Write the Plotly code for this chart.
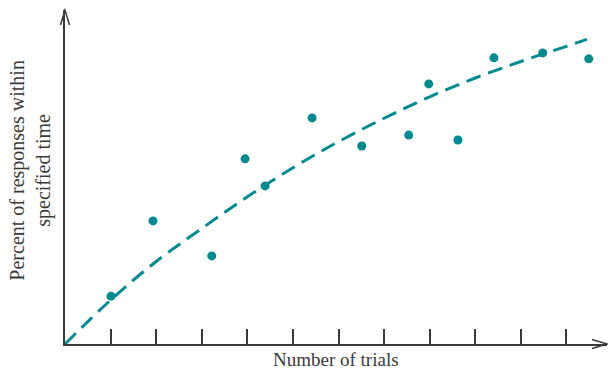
import plotly.graph_objects as go

# Observed responses (trial number, percent)
trial_x = [1.01, 1.93, 3.22, 3.95, 4.39, 5.42, 6.51, 7.54, 7.98, 8.62, 9.41, 10.48, 11.49]
percent_y = [14.5, 37.3, 26.7, 56.1, 47.9, 68.5, 60.0, 63.3, 78.8, 61.8, 86.7, 88.2, 86.4]

# Learning curve
curve_x = [0, 1, 2, 3, 4, 5, 6, 7, 8, 9, 10, 11, 11.45]
curve_y = [0, 13.3, 25.0, 35.0, 44.6, 53.4, 61.3, 68.4, 74.9, 80.6, 85.6, 90.2, 92.3]

tick_positions = [1, 2, 3, 4, 5, 6, 7, 8, 9, 10, 11]

TEAL = "#00898f"
AXIS = "#3a3a3a"
FONT = "Liberation Serif"

fig = go.Figure()
fig.add_trace(go.Scatter(x=curve_x, y=curve_y, mode="lines",
                         line=dict(color=TEAL, width=3, dash="15px,8px", shape="spline"),
                         hoverinfo="skip", showlegend=False))
fig.add_trace(go.Scatter(x=trial_x, y=percent_y, mode="markers",
                         marker=dict(color=TEAL, size=9), showlegend=False))

fig.update_layout(
    width=608, height=372,
    margin=dict(l=65, r=1, t=10, b=28),
    paper_bgcolor="white", plot_bgcolor="white",
    font=dict(family=FONT, size=20, color=AXIS),
    xaxis=dict(range=[0, 11.89], showgrid=False, zeroline=False,
               showline=True, linecolor=AXIS, linewidth=1.5,
               tickvals=tick_positions, ticks="inside", ticklen=15,
               tickwidth=1.5, tickcolor=AXIS, showticklabels=False,
               fixedrange=True),
    yaxis=dict(range=[0, 101.2], showgrid=False, zeroline=False,
               showline=True, linecolor=AXIS, linewidth=1.5,
               showticklabels=False, ticks="", fixedrange=True),
    annotations=[
        dict(text="Percent of responses within<br>specified time", textangle=-90,
             xref="paper", yref="paper", x=-0.064, y=0.52, xanchor="center", yanchor="middle",
             showarrow=False, font=dict(family=FONT, size=20, color=AXIS)),
        dict(text="Number of trials", xref="paper", yref="paper", x=0.5, y=-0.045,
             xanchor="center", yanchor="middle", showarrow=False, borderpad=0,
             font=dict(family=FONT, size=19, color=AXIS)),
    ],
    shapes=[
        # arrowhead at top of y axis
        dict(type="path", xref="paper", yref="paper", xsizemode="pixel", ysizemode="pixel",
             xanchor=0, yanchor=1, path="M -4.5,-15 L 0,0 L 4.5,-15",
             line=dict(color=AXIS, width=1.5)),
        # arrowhead at right end of x axis
        dict(type="path", xref="paper", yref="paper", xsizemode="pixel", ysizemode="pixel",
             xanchor=1, yanchor=0, path="M -15,4.5 L 0,0 L -15,-4.5",
             line=dict(color=AXIS, width=1.5)),
    ],
)

fig.write_html("out.html", config={"displayModeBar": False},
               post_script="document.body.style.margin='0px';")
